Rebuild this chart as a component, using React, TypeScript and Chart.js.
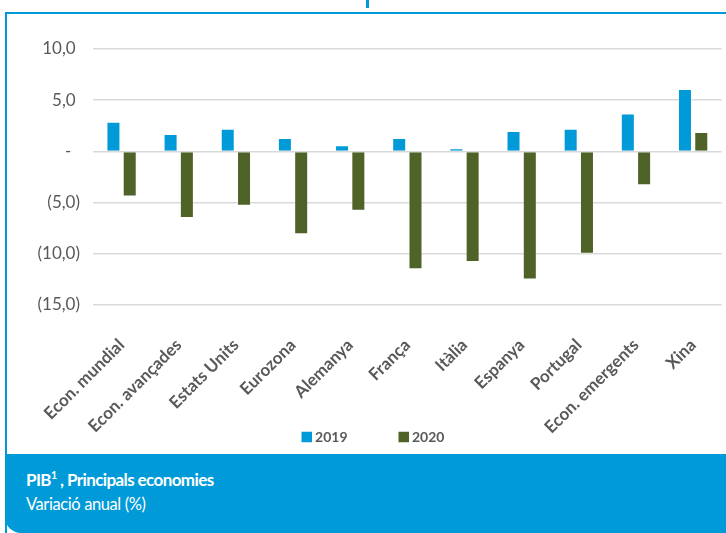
import { useEffect, useRef } from "react";
import { Chart, registerables } from "chart.js";

Chart.register(...registerables);

const categories = [
  "Econ. mundial",
  "Econ. avançades",
  "Estats Units",
  "Eurozona",
  "Alemanya",
  "França",
  "Itàlia",
  "Espanya",
  "Portugal",
  "Econ. emergents",
  "Xina",
];
const seriesLabels = ["2019", "2020"];
const values2019 = [2.9, 1.7, 2.2, 1.3, 0.6, 1.3, 0.3, 2.0, 2.2, 3.7, 6.1];
const values2020 = [-4.4, -6.5, -5.3, -8.1, -5.8, -11.5, -10.8, -12.5, -10.0, -3.3, 1.9];
const yMin = -15;
const yMax = 10;
const yStep = 5;

const BLUE = "#009ad8";
const GREEN = "#4f6228";
const GRAY_TEXT = "#595959";
const FONT = "Lato, 'Open Sans', sans-serif";

function fmt(v: number): string {
  if (v === 0) return "-  ";
  const s = Math.abs(v).toFixed(1).replace(".", ",");
  return v < 0 ? `(${s})` : `${s} `;
}

const legendPlugin = {
  id: "customLegend",
  afterDraw(chart: any) {
    const ctx = chart.ctx;
    const items = chart.data.datasets.map((d: any) => ({ label: d.label, color: d.backgroundColor }));
    ctx.save();
    ctx.font = `bold 14px ${FONT}`;
    const box = 10.5;
    const gapText = 3;
    const gapItem = 51;
    const widths = items.map((it: any) => box + gapText + ctx.measureText(it.label).width);
    const total = widths.reduce((a: number, b: number) => a + b, 0) + gapItem * (items.length - 1);
    let x = chart.width / 2 - total / 2;
    const y = chart.height - 15;
    items.forEach((it: any, i: number) => {
      ctx.fillStyle = it.color;
      ctx.fillRect(x, y - box / 2, box, box);
      ctx.fillStyle = GRAY_TEXT;
      ctx.textBaseline = "middle";
      ctx.textAlign = "left";
      ctx.fillText(it.label, x + box + gapText, y + 0.5);
      x += widths[i] + gapItem;
    });
    ctx.restore();
  },
};

export default function App() {
  const ref = useRef<HTMLCanvasElement | null>(null);

  useEffect(() => {
    if (!ref.current) return;
    const chart = new Chart(ref.current, {
      type: "bar",
      data: {
        labels: categories,
        datasets: [
          {
            label: seriesLabels[0],
            data: values2019,
            backgroundColor: BLUE,
            borderColor: "rgba(255,255,255,0.35)",
            borderWidth: 1,
            categoryPercentage: 0.57,
            barPercentage: 0.86,
          },
          {
            label: seriesLabels[1],
            data: values2020,
            backgroundColor: GREEN,
            borderColor: "rgba(255,255,255,0.35)",
            borderWidth: 1,
            categoryPercentage: 0.57,
            barPercentage: 0.86,
          },
        ],
      },
      options: {
        animation: false,
        responsive: true,
        maintainAspectRatio: false,
        layout: { padding: { top: 29, right: 10, bottom: 0, left: 0 } },
        plugins: {
          legend: { display: false },
          tooltip: { enabled: false },
        },
        scales: {
          x: {
            afterFit: (scale: any) => {
              scale.height = 147;
            },
            grid: { display: false, drawTicks: false },
            border: { display: false },
            ticks: {
              autoSkip: false,
              maxRotation: 45,
              minRotation: 45,
              padding: 30,
              color: GRAY_TEXT,
              font: { family: FONT, size: 17, weight: 700 },
            },
          },
          y: {
            min: yMin,
            max: yMax,
            afterFit: (scale: any) => {
              scale.width = 85;
            },
            grid: { color: "#d9d9d9", lineWidth: 1.5, drawTicks: false },
            border: { display: false },
            ticks: {
              stepSize: yStep,
              padding: 13,
              color: GRAY_TEXT,
              font: { family: FONT, size: 17 },
              callback: (v: any) => fmt(Number(v)),
            },
          },
        },
      },
      plugins: [legendPlugin],
    });
    return () => chart.destroy();
  }, []);

  return (
    <div
      style={{
        position: "absolute",
        left: 0,
        top: 0,
        width: 726,
        height: 533,
        overflow: "hidden",
        background: "#fff",
        fontFamily: FONT,
      }}
    >
      <div style={{ position: "absolute", left: 366, top: 0, width: 3, height: 8, background: BLUE }} />
      <div
        style={{
          position: "absolute",
          left: 5,
          top: 12,
          width: 780,
          height: 540,
          border: `2px solid ${BLUE}`,
          borderBottomLeftRadius: 16,
          boxSizing: "border-box",
        }}
      />
      <div style={{ position: "absolute", left: 8, top: 20, width: 730, height: 432 }}>
        <canvas ref={ref} />
      </div>
      <div
        style={{
          position: "absolute",
          left: 5,
          top: 454,
          width: 780,
          height: 79,
          background: BLUE,
          borderBottomLeftRadius: 16,
          color: "#fff",
          boxSizing: "border-box",
          paddingLeft: 21,
          paddingTop: 14,
        }}
      >
        <div style={{ fontWeight: "bold", fontSize: 17, lineHeight: "24px", letterSpacing: "-0.6px" }}>
          PIB<sup style={{ fontSize: "0.62em", lineHeight: 0 }}>1</sup> , Principals economies
        </div>
        <div style={{ fontSize: 16.5, lineHeight: "24px", letterSpacing: "-0.4px" }}>Variació anual (%)</div>
      </div>
    </div>
  );
}
